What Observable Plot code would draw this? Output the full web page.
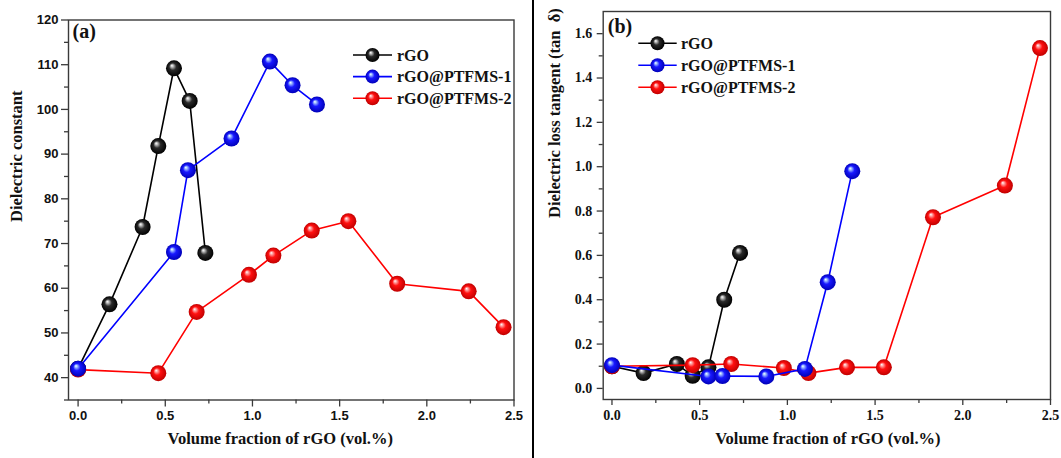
<!DOCTYPE html>
<html><head><meta charset="utf-8">
<script src="https://cdn.jsdelivr.net/npm/d3@7"></script>
<script src="https://cdn.jsdelivr.net/npm/@observablehq/plot@0.6"></script>
<style>
body{margin:0;background:#fff;}
#wrap{position:relative;width:1061px;height:458px;overflow:hidden;background:#fff;}
#sep{position:absolute;left:532px;top:0;width:1.6px;height:458px;background:#000;}
</style></head><body>
<svg width="0" height="0" style="position:absolute">
<defs>
<radialGradient id="sphBlack" cx="0.5" cy="0.5" r="0.5" fx="0.36" fy="0.32">
<stop offset="0" stop-color="#ffffff"/><stop offset="0.14" stop-color="#c8c8c8"/><stop offset="0.45" stop-color="#2a2a2a"/><stop offset="1" stop-color="#000000"/>
</radialGradient>
<radialGradient id="sphBlue" cx="0.5" cy="0.5" r="0.5" fx="0.36" fy="0.32">
<stop offset="0" stop-color="#ffffff"/><stop offset="0.14" stop-color="#a8c8ff"/><stop offset="0.45" stop-color="#1818ff"/><stop offset="1" stop-color="#0000b8"/>
</radialGradient>
<radialGradient id="sphRed" cx="0.5" cy="0.5" r="0.5" fx="0.36" fy="0.32">
<stop offset="0" stop-color="#ffffff"/><stop offset="0.14" stop-color="#ffb0b0"/><stop offset="0.45" stop-color="#ff1010"/><stop offset="1" stop-color="#c00000"/>
</radialGradient>
</defs>
</svg>
<div id="wrap"><div id="sep"></div></div>
<script>
// ---- data ----
const seriesNames = ["rGO", "rGO@PTFMS-1", "rGO@PTFMS-2"];
const xRGO = [0, 0.18, 0.37, 0.46, 0.55, 0.64, 0.73];
const xP1  = [0, 0.55, 0.63, 0.88, 1.10, 1.23, 1.37];
const xP2  = [0, 0.46, 0.68, 0.98, 1.12, 1.34, 1.55, 1.83, 2.24, 2.44];
// (a) dielectric constant
const epsRGO = [42, 56.4, 73.7, 91.8, 109.2, 101.9, 67.9];
const epsP1  = [42, 68.1, 86.4, 93.5, 110.7, 105.4, 101.1];
const epsP2  = [41.8, 41.0, 54.7, 63.0, 67.3, 72.9, 75.0, 61.0, 59.3, 51.3];
// (b) dielectric loss tangent
const tanRGO = [0.10, 0.069, 0.11, 0.057, 0.095, 0.40, 0.611];
const tanP1  = [0.105, 0.054, 0.056, 0.054, 0.088, 0.479, 0.98];
const tanP2  = [0.10, 0.105, 0.11, 0.092, 0.069, 0.095, 0.095, 0.772, 0.915, 1.535];
// ticks
const xMajor = [0, 0.5, 1.0, 1.5, 2.0, 2.5];
const xMinor = [0.25, 0.75, 1.25, 1.75, 2.25];
const yMajorA = [40, 50, 60, 70, 80, 90, 100, 110, 120];
const yMinorA = [35, 45, 55, 65, 75, 85, 95, 105, 115];
const yMajorB = [0.0, 0.2, 0.4, 0.6, 0.8, 1.0, 1.2, 1.4, 1.6];
const yMinorB = [0.1, 0.3, 0.5, 0.7, 0.9, 1.1, 1.3, 1.5];
const xTitle = "Volume fraction of rGO (vol.%)";
const yTitleA = "Dielectric constant";
const yTitleB = "Dielectric loss tangent (tan  \u03b4)";

const colors = ["#000000", "#0000ff", "#ff0000"];
const fills = ["url(#sphBlack)", "url(#sphBlue)", "url(#sphRed)"];
const SERIF = "'Liberation Serif','Times New Roman',serif";
const SANS = "'Liberation Sans',Arial,sans-serif";

function rows(xs, ys) { return xs.map((x, i) => ({x, y: ys[i]})); }

function panel(cfg) {
  const data = [rows(xRGO, cfg.ys[0]), rows(xP1, cfg.ys[1]), rows(xP2, cfg.ys[2])];
  const order = [0, 2, 1]; // drawing order: black, red, blue on top
  const seriesMarks = order.flatMap(i => [
    Plot.line(data[i], {x: "x", y: "y", stroke: colors[i], strokeWidth: 1.6}),
    Plot.dot(data[i], {x: "x", y: "y", r: 8, fill: fills[i], stroke: null})
  ]);
  const axisCol = "#3a3a3a";
  const svg = Plot.plot({
    width: cfg.width, height: 458,
    marginLeft: cfg.ml, marginRight: cfg.mr, marginTop: cfg.mt, marginBottom: cfg.mb,
    style: {background: "transparent", overflow: "visible"},
    x: {domain: cfg.xDomain, label: null},
    y: {domain: cfg.yDomain, label: null},
    marks: [
      Plot.axisY(cfg.yMinor, {tickSize: 4, text: null, label: null, stroke: axisCol, strokeWidth: 1.3}),
      Plot.axisY(cfg.yMajor, {tickSize: cfg.tickSize, tickPadding: cfg.yPad, label: null, stroke: axisCol, strokeWidth: 1.3,
        tickFormat: cfg.yFmt, fontSize: cfg.tickFont, fontWeight: "bold", fontFamily: cfg.tickFamily, fill: "#111"}),
      Plot.axisX(xMinor, {tickSize: 4, text: null, label: null, stroke: axisCol, strokeWidth: 1.3}),
      Plot.axisX(xMajor, {tickSize: cfg.tickSize, tickPadding: cfg.xPad, label: null, stroke: axisCol, strokeWidth: 1.3,
        tickFormat: d3.format(".1f"), fontSize: cfg.tickFont, fontWeight: "bold", fontFamily: cfg.tickFamily, fill: "#111"}),
      Plot.frame({stroke: axisCol, strokeWidth: 1.4}),
      ...seriesMarks,
      Plot.text([xTitle], {text: d => d, frameAnchor: "bottom", dx: cfg.xtDx, dy: cfg.xtDy,
        fontSize: 16.5, fontWeight: "bold", fontFamily: SERIF, fill: "#111"}),
      Plot.text([cfg.yTitle], {text: d => d, frameAnchor: "left", rotate: -90, dx: cfg.ytDx, dy: cfg.ytDy,
        fontSize: 16.5, fontWeight: "bold", fontFamily: SERIF, fill: "#111"}),
      Plot.text([cfg.tag], {text: d => d, frameAnchor: "top-left", textAnchor: "start", lineAnchor: "top",
        dx: cfg.tagDx, dy: cfg.tagDy, fontSize: 20, fontWeight: "bold", fontFamily: SERIF, fill: "#111"})
    ]
  });
  svg.style.position = "absolute";
  svg.style.left = cfg.left + "px";
  svg.style.top = "0px";
  // legend (annotation)
  const g = d3.select(svg).append("g").attr("text-anchor", "start");
  seriesNames.forEach((name, i) => {
    const yy = cfg.leg.y0 + i * cfg.leg.dy;
    g.append("line").attr("x1", cfg.leg.x1).attr("x2", cfg.leg.x2).attr("y1", yy).attr("y2", yy)
      .attr("stroke", colors[i]).attr("stroke-width", 1.6);
    g.append("circle").attr("cx", (cfg.leg.x1 + cfg.leg.x2) / 2).attr("cy", yy).attr("r", 7).attr("fill", fills[i]);
    g.append("text").attr("x", cfg.leg.tx).attr("y", yy).attr("dy", "0.35em").attr("text-anchor", "start")
      .attr("font-family", SERIF).attr("font-size", 16).attr("font-weight", "bold").attr("fill", "#111").text(name);
  });
  document.getElementById("wrap").appendChild(svg);
}

panel({
  ys: [epsRGO, epsP1, epsP2], width: 530, left: 0,
  ml: 68, mr: 16.5, mt: 19.5, mb: 58.5,
  xDomain: [-0.055, 2.5], yDomain: [35, 120],
  yMajor: yMajorA, yMinor: yMinorA, yFmt: d3.format("d"),
  tickSize: 7, yPad: 3, xPad: 4, tickFont: 13, tickFamily: SANS,
  yTitle: yTitleA, xtDx: -11, xtDy: 43.5, ytDx: -52, ytDy: 12,
  tag: "(a)", tagDx: 4, tagDy: 4,
  leg: {x1: 353, x2: 392, y0: 55, dy: 21.6, tx: 397}
});
panel({
  ys: [tanRGO, tanP1, tanP2], width: 531, left: 530,
  ml: 72.7, mr: 11, mt: 11, mb: 59,
  xDomain: [-0.05, 2.5], yDomain: [-0.05, 1.7],
  yMajor: yMajorB, yMinor: yMinorB, yFmt: d3.format(".1f"),
  tickSize: 6, yPad: 5, xPad: 5, tickFont: 14, tickFamily: SERIF,
  yTitle: yTitleB, xtDx: 1, xtDy: 44.5, ytDx: -48, ytDy: 12.5,
  tag: "(b)", tagDx: 4.6, tagDy: 7,
  leg: {x1: 108.3, x2: 146.7, y0: 43.3, dy: 22, tx: 151}
});
</script>
</body></html>
